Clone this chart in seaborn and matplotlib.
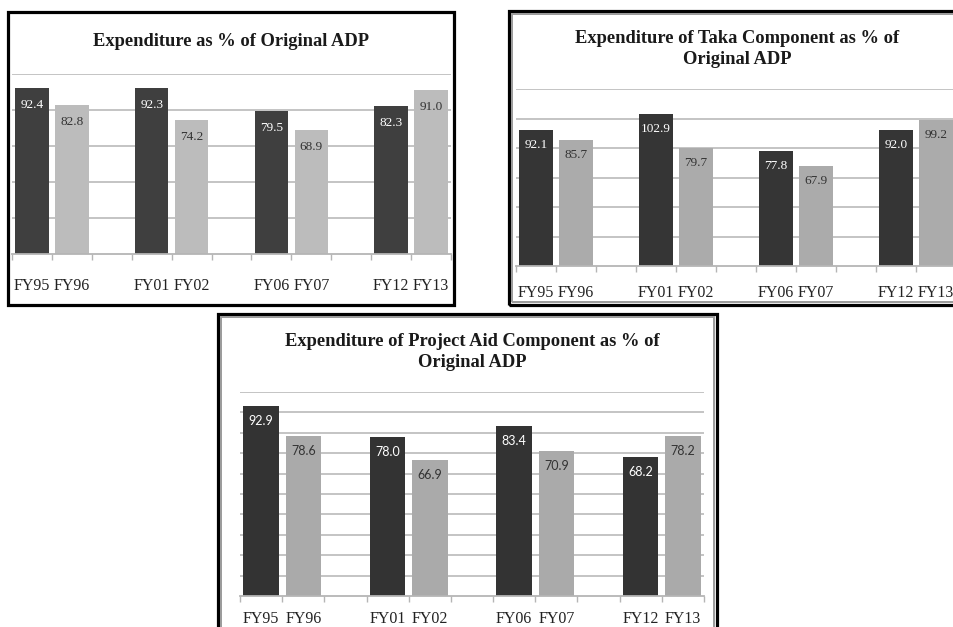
import matplotlib
matplotlib.use("Agg")
import matplotlib.pyplot as plt
import seaborn as sns
import pandas as pd
from matplotlib.patches import Rectangle

sns.set_theme(style="white")
plt.rcParams["font.family"] = ["Liberation Serif", "DejaVu Serif"]

# x slots: blank names leave an empty slot between the year pairs
slots = ["FY95", "FY96", "", "FY01", "FY02", " ", "FY06", "FY07", "  ", "FY12", "FY13"]
early_years = ["FY95", "FY01", "FY06", "FY12"]
late_years = ["FY96", "FY02", "FY07", "FY13"]

total_early = [92.4, 92.3, 79.5, 82.3]
total_late = [82.8, 74.2, 68.9, 91.0]
taka_early = [92.1, 102.9, 77.8, 92.0]
taka_late = [85.7, 79.7, 67.9, 99.2]
aid_early = [92.9, 78.0, 83.4, 68.2]
aid_late = [78.6, 66.9, 70.9, 78.2]

titles = [
    "Expenditure as % of Original ADP",
    "Expenditure of Taka Component as % of\nOriginal ADP",
    "Expenditure of Project Aid Component as % of\nOriginal ADP",
]

W, H = 954, 627
fig = plt.figure(figsize=(W / 100, H / 100), dpi=100)
fig.patch.set_facecolor("white")


def px_rect(l, t, w, h):
    return [l / W, 1 - (t + h) / H, w / W, h / H]


def frame(l, t, r, b, double):
    fig.patches.append(Rectangle((l / W, 1 - b / H), (r - l) / W, (b - t) / H,
                                 transform=fig.transFigure, fill=False,
                                 edgecolor="black", linewidth=2.3))
    if double:
        d = 3
        fig.patches.append(Rectangle(((l + d) / W, 1 - (b - d) / H), (r - l - 2 * d) / W,
                                     (b - t - 2 * d) / H, transform=fig.transFigure,
                                     fill=False, edgecolor="#9a9a9a", linewidth=1.4))


panels = [
    # axes box (px), ymax, grid step, bar colours, value-label offset/font, tick pad, title pos
    dict(box=(12, 74, 439, 180), ymax=100, step=20, dark="#3f3f3f", light="#bcbcbc",
         off=17, vfont=["Liberation Serif"], vsize=9.5, pad=17, title=(231, 42),
         early=total_early, late=total_late),
    dict(box=(516, 89, 440, 177), ymax=120, step=20, dark="#353535", light="#ababab",
         off=15, vfont=["Liberation Serif"], vsize=9.5, pad=14, title=(737, 49),
         early=taka_early, late=taka_late),
    dict(box=(240, 392, 464, 204), ymax=100, step=10, dark="#333333", light="#aaaaaa",
         off=15, vfont=["Lato", "DejaVu Sans"], vsize=9, pad=11, title=(472, 352),
         early=aid_early, late=aid_late),
]

frame(8, 12, 454, 305, False)
frame(509, 11, 1010, 305, True)
frame(218, 314, 717, 660, True)

for p, title in zip(panels, titles):
    ax = fig.add_axes(px_rect(*p["box"]))
    df = pd.DataFrame({
        "year": early_years + late_years,
        "value": p["early"] + p["late"],
        "shade": ["early"] * 4 + ["late"] * 4,
    })
    sns.barplot(data=df, x="year", y="value", hue="shade", order=slots,
                palette={"early": p["dark"], "late": p["light"]},
                dodge=False, width=0.84, linewidth=0, legend=False, ax=ax)

    ax.set_xlim(-0.5, len(slots) - 0.5)
    ax.set_ylim(0, p["ymax"])
    ax.set_xlabel("")
    ax.set_ylabel("")
    ax.set_yticks([])
    ax.set_facecolor("white")

    for y in range(p["step"], p["ymax"] + 1, p["step"]):
        ax.axhline(y, color="#c4c4c4", linewidth=1.4, zorder=0)

    for s in ["left", "right", "top"]:
        ax.spines[s].set_visible(False)
    ax.spines["bottom"].set_color("#b5b5b5")
    ax.spines["bottom"].set_linewidth(1.3)

    ax.set_xticks(range(len(slots)))
    ax.set_xticklabels(slots, fontsize=11.5, color="#222222")
    ax.set_xticks([i - 0.5 for i in range(len(slots) + 1)], minor=True)
    ax.tick_params(axis="x", which="major", length=0, pad=p["pad"])
    ax.tick_params(axis="x", which="minor", length=4, width=1, color="#b5b5b5",
                   direction="out", bottom=True)

    for years, vals, col in [(early_years, p["early"], "white"),
                             (late_years, p["late"], "#333333")]:
        for yr, v in zip(years, vals):
            ax.annotate(f"{v:.1f}", xy=(slots.index(yr), v), xytext=(0, -p["off"]),
                        textcoords="offset pixels", ha="center", va="center",
                        fontsize=p["vsize"], color=col, family=p["vfont"])

    tx, ty = p["title"]
    fig.text(tx / W, 1 - ty / H, title, ha="center", va="center", fontsize=13.3,
             fontweight="bold", color="#1a1a1a", linespacing=1.35)

fig.savefig("out.png", dpi=100, facecolor="white")
